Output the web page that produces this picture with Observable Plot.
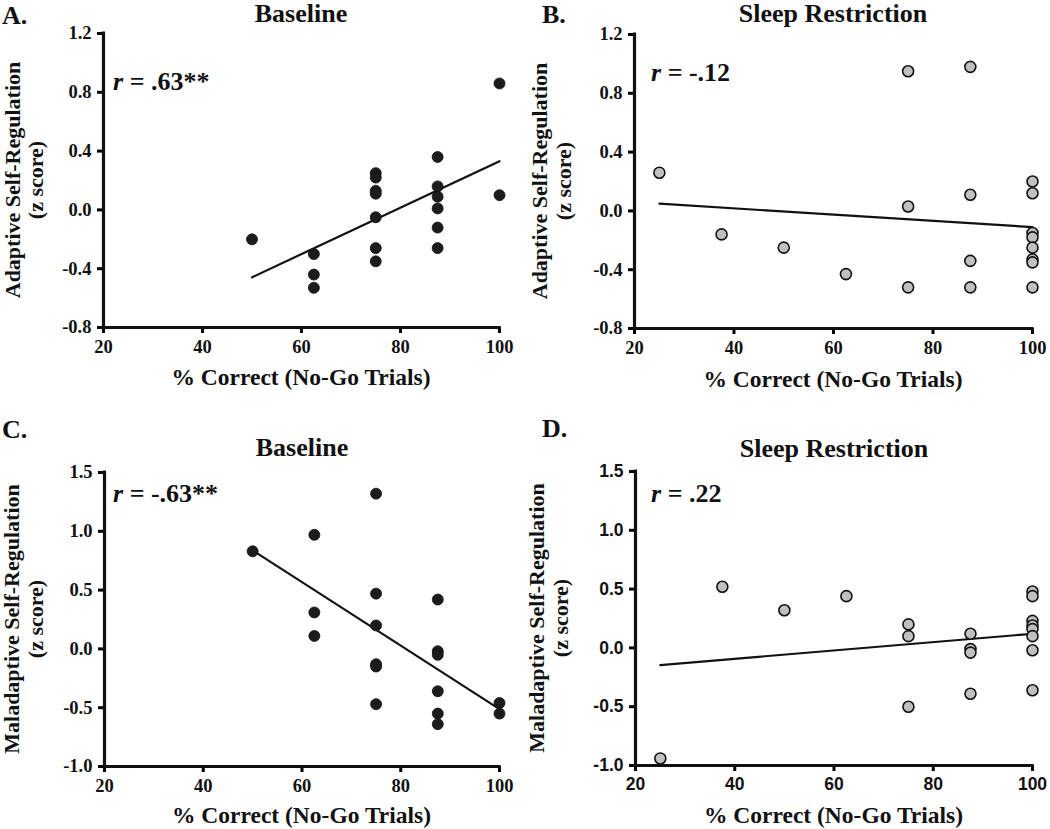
<!DOCTYPE html>
<html>
<head>
<meta charset="utf-8">
<script src="https://cdn.jsdelivr.net/npm/d3@7"></script>
<script src="https://cdn.jsdelivr.net/npm/@observablehq/plot@0.6"></script>
<style>
  body { margin: 0; background: white; }
  #wrap { position: relative; width: 1050px; height: 829px; background: white; overflow: hidden; }
  .panel { position: absolute; }
</style>
</head>
<body>
<div id="wrap"></div>
<script>
// ---------- data ----------
const xTicks = [20, 40, 60, 80, 100];
const yTicksAdaptive = [-0.8, -0.4, 0.0, 0.4, 0.8, 1.2];
const yTicksMaladaptive = [-1.0, -0.5, 0.0, 0.5, 1.0, 1.5];

// A. Adaptive, Baseline
const adaptiveBaselineX = [50, 62.5, 62.5, 62.5, 75, 75, 75, 75, 75, 75, 75, 87.5, 87.5, 87.5, 87.5, 87.5, 87.5, 100, 100];
const adaptiveBaselineY = [-0.20, -0.30, -0.44, -0.53, 0.25, 0.22, 0.13, 0.11, -0.05, -0.26, -0.35, 0.36, 0.16, 0.09, 0.01, -0.12, -0.26, 0.86, 0.10];

// B. Adaptive, Sleep Restriction
const adaptiveSleepX = [25, 37.5, 50, 62.5, 75, 75, 75, 87.5, 87.5, 87.5, 87.5, 100, 100, 100, 100, 100, 100, 100, 100];
const adaptiveSleepY = [0.26, -0.16, -0.25, -0.43, 0.95, 0.03, -0.52, 0.98, 0.11, -0.34, -0.52, 0.20, 0.12, -0.15, -0.18, -0.25, -0.33, -0.35, -0.52];

// C. Maladaptive, Baseline
const maladaptiveBaselineX = [50, 62.5, 62.5, 62.5, 75, 75, 75, 75, 75, 75, 87.5, 87.5, 87.5, 87.5, 87.5, 87.5, 100, 100];
const maladaptiveBaselineY = [0.83, 0.97, 0.31, 0.11, 1.32, 0.47, 0.20, -0.13, -0.15, -0.47, 0.42, -0.02, -0.05, -0.36, -0.55, -0.64, -0.46, -0.55];

// D. Maladaptive, Sleep Restriction
const maladaptiveSleepX = [25, 37.5, 50, 62.5, 75, 75, 75, 87.5, 87.5, 87.5, 87.5, 100, 100, 100, 100, 100, 100, 100, 100];
const maladaptiveSleepY = [-0.94, 0.52, 0.32, 0.44, 0.20, 0.10, -0.50, 0.12, -0.01, -0.04, -0.39, 0.48, 0.44, 0.23, 0.19, 0.16, 0.10, -0.02, -0.36];

const letters = ["A.", "B.", "C.", "D."];
const titles = ["Baseline", "Sleep Restriction", "Baseline", "Sleep Restriction"];
const rValues = [" = .63**", " = -.12", " = -.63**", " = .22"];
const yLabels = ["Adaptive Self-Regulation", "Adaptive Self-Regulation", "Maladaptive Self-Regulation", "Maladaptive Self-Regulation"];
const yLabel2 = "(z score)";
const xLabel = "% Correct (No-Go Trials)";

// ---------- layout ----------
const SERIF = "'Liberation Serif', 'Times New Roman', serif";
const SANS = "'Liberation Sans', Arial, sans-serif";

const panels = [
  { xs: adaptiveBaselineX, ys: adaptiveBaselineY, yTicks: yTicksAdaptive, fill: "#1c1c1c", stroke: "#111", tickFont: SERIF,
    left: 0, top: 0, height: 415, mL: 103, mR: 26, mT: 33, mB: 88,
    letter: [2, 24], title: [301, 22], r: [113, 90], yl1: 20, yl2: 43, xlBase: 385 },
  { xs: adaptiveSleepX, ys: adaptiveSleepY, yTicks: yTicksAdaptive, fill: "#c0c0c0", stroke: "#111", tickFont: SERIF,
    left: 525, top: 0, height: 415, mL: 109, mR: 18, mT: 34, mB: 87,
    letter: [17, 23], title: [308, 22], r: [126, 81], yl1: 22, yl2: 46, xlBase: 387 },
  { xs: maladaptiveBaselineX, ys: maladaptiveBaselineY, yTicks: yTicksMaladaptive, fill: "#1c1c1c", stroke: "#111", tickFont: SERIF,
    left: 0, top: 415, height: 414, mL: 104, mR: 26, mT: 57, mB: 63,
    letter: [2, 23], title: [302, 41], r: [113, 87], yl1: 19, yl2: 43, xlBase: 408 },
  { xs: maladaptiveSleepX, ys: maladaptiveSleepY, yTicks: yTicksMaladaptive, fill: "#c0c0c0", stroke: "#111", tickFont: SANS,
    left: 525, top: 415, height: 414, mL: 110, mR: 18, mT: 56, mB: 64,
    letter: [17, 22], title: [309, 42], r: [126, 87], yl1: 19, yl2: 43, xlBase: 408 }
];

const wrap = document.getElementById("wrap");

panels.forEach((p, i) => {
  const data = p.xs.map((v, k) => ({ x: v, y: p.ys[k] }));
  const yMin = p.yTicks[0], yMax = p.yTicks[p.yTicks.length - 1];
  const tickFontSize = p.tickFont === SANS ? 17.5 : 18.5;

  const chart = Plot.plot({
    width: 525,
    height: p.height,
    marginLeft: p.mL, marginRight: p.mR, marginTop: p.mT, marginBottom: p.mB,
    style: { background: "white", fontFamily: p.tickFont, fontSize: tickFontSize + "px", fontWeight: "bold", color: "black", overflow: "visible" },
    x: { domain: [20, 100] },
    y: { domain: [yMin, yMax] },
    marks: [
      Plot.axisX({ ticks: xTicks, tickFormat: d => String(d), tickSize: 6, tickPadding: 6, strokeWidth: 3,
        fontSize: tickFontSize, fontWeight: "bold", fontFamily: p.tickFont, label: null, fill: "#111" }),
      Plot.axisY({ ticks: p.yTicks, tickFormat: d => d.toFixed(1), tickSize: 6, tickPadding: 6, strokeWidth: 3,
        fontSize: tickFontSize, fontWeight: "bold", fontFamily: p.tickFont, label: null, fill: "#111" }),
      Plot.ruleX([20], { stroke: "#111", strokeWidth: 3.2, strokeLinecap: "square" }),
      Plot.ruleY([yMin], { stroke: "#111", strokeWidth: 3.2, strokeLinecap: "square" }),
      Plot.linearRegressionY(data, { x: "x", y: "y", ci: 0, stroke: "#111", strokeWidth: 2.2 }),
      Plot.dot(data, { x: "x", y: "y", r: 5.5, fill: p.fill, stroke: p.stroke, strokeWidth: p.fill === "#c0c0c0" ? 1.6 : 0.8 })
    ]
  });

  const div = document.createElement("div");
  div.className = "panel";
  div.style.left = p.left + "px";
  div.style.top = p.top + "px";
  div.appendChild(chart);
  wrap.appendChild(div);

  const svg = d3.select(chart);
  const cx = p.mL + (525 - p.mL - p.mR) / 2;
  const cy = p.mT + (p.height - p.mT - p.mB) / 2;

  // panel letter
  svg.append("text").attr("x", p.letter[0]).attr("y", p.letter[1]).attr("text-anchor", "start")
    .attr("font-family", SERIF).attr("font-size", 26).attr("font-weight", "bold").attr("fill", "#111")
    .text(letters[i]);
  // title
  svg.append("text").attr("x", p.title[0]).attr("y", p.title[1]).attr("text-anchor", "middle")
    .attr("font-family", SERIF).attr("font-size", 26).attr("font-weight", "bold").attr("fill", "#111")
    .text(titles[i]);
  // r annotation
  const rt = svg.append("text").attr("x", p.r[0]).attr("y", p.r[1]).attr("text-anchor", "start")
    .attr("font-family", SERIF).attr("font-size", 26).attr("font-weight", "bold").attr("fill", "#111");
  rt.append("tspan").attr("font-style", "italic").text("r");
  rt.append("tspan").text(rValues[i]);
  // y labels
  svg.append("text").attr("transform", `translate(${p.yl1},${cy}) rotate(-90)`).attr("text-anchor", "middle")
    .attr("font-family", SERIF).attr("font-size", 22).attr("font-weight", "bold").attr("fill", "#111")
    .text(yLabels[i]);
  svg.append("text").attr("transform", `translate(${p.yl2},${cy}) rotate(-90)`).attr("text-anchor", "middle")
    .attr("font-family", SERIF).attr("font-size", 22).attr("font-weight", "bold").attr("fill", "#111")
    .text(yLabel2);
  // x label
  svg.append("text").attr("x", cx).attr("y", p.xlBase).attr("text-anchor", "middle")
    .attr("font-family", SERIF).attr("font-size", 23.5).attr("font-weight", "bold").attr("fill", "#111")
    .text(xLabel);
});
</script>
</body>
</html>
